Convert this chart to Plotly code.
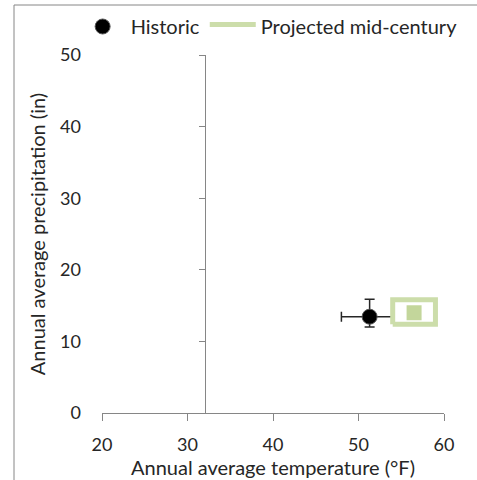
import plotly.graph_objects as go

# ---- data ----
hist_temp = [51.3]
hist_precip = [13.45]
hist_temp_err_minus = [3.3]
hist_temp_err_plus = [2.6]
hist_precip_err_minus = [1.45]
hist_precip_err_plus = [2.45]

proj_temp = [56.5]
proj_precip = [14.0]
proj_temp_range = [54.0, 59.0]
proj_precip_range = [12.4, 15.8]

x_ticks = [20, 30, 40, 50, 60]
y_ticks = [0, 10, 20, 30, 40, 50]
x_range = [20, 60]
y_range = [0, 50]
y_axis_cross = 32  # freezing point

FONT = "Lato"
TXT = "#262626"
AX = "#868686"
GREEN_FILL = "#C3D69B"
GREEN_LINE = "#CCDDAA"

W, H = 477, 480
ML, MR, MT, MB = 102, 33, 55, 67
pw = W - ML - MR
ph = H - MT - MB

fig = go.Figure()

bx = [proj_temp_range[0], proj_temp_range[1], proj_temp_range[1], proj_temp_range[0], proj_temp_range[0]]
by = [proj_precip_range[0], proj_precip_range[0], proj_precip_range[1], proj_precip_range[1], proj_precip_range[0]]

fig.add_trace(go.Scatter(
    x=hist_temp, y=hist_precip, mode="markers", name="Historic",
    marker=dict(symbol="circle", size=15, color="black",
                line=dict(color="#555555", width=1)),
    error_x=dict(type="data", array=hist_temp_err_plus, arrayminus=hist_temp_err_minus,
                 color="#262626", thickness=1.5, width=5),
    error_y=dict(type="data", array=hist_precip_err_plus, arrayminus=hist_precip_err_minus,
                 color="#262626", thickness=1.5, width=5),
))

fig.add_trace(go.Scatter(
    x=bx, y=by, mode="lines", name="Projected mid-century",
    line=dict(color=GREEN_LINE, width=5), fill="toself", fillcolor="white",
))
fig.add_trace(go.Scatter(
    x=proj_temp, y=proj_precip, mode="markers", showlegend=False,
    marker=dict(symbol="square", size=15, color=GREEN_FILL),
))

fig.add_trace(go.Scatter(x=[y_axis_cross], y=[0], yaxis="y2", mode="markers",
                         marker=dict(opacity=0), showlegend=False, hoverinfo="skip"))

cross_pos = (y_axis_cross - x_range[0]) / (x_range[1] - x_range[0])

fig.update_layout(
    width=W, height=H,
    margin=dict(l=ML, r=MR, t=MT, b=MB, autoexpand=False),
    paper_bgcolor="white", plot_bgcolor="white",
    font=dict(family=FONT, size=17, color=TXT),
    xaxis=dict(range=x_range, tickvals=x_ticks, showgrid=False, zeroline=False,
               showline=True, linecolor=AX, linewidth=1, ticks="outside",
               ticklen=7, tickcolor=AX, ticklabelstandoff=8,
               title=dict(text="Annual average temperature (°F)", standoff=6),
               tickfont=dict(size=18)),
    yaxis=dict(range=y_range, tickvals=y_ticks, showgrid=False, zeroline=False,
               showline=False, ticks="", ticklabelstandoff=20,
               title=dict(text="Annual average precipitation (in)", standoff=9),
               tickfont=dict(size=18)),
    yaxis2=dict(range=y_range, tickvals=y_ticks, overlaying="y", anchor="free",
                position=cross_pos, side="left", showgrid=False, zeroline=False,
                showline=True, linecolor=AX, linewidth=1, ticks="outside",
                ticklen=6, tickcolor=AX, showticklabels=False),
    legend=dict(orientation="h", x=-0.08, y=1 + (MT - 7) / ph, xanchor="left",
                yanchor="top", font=dict(size=20), bgcolor="rgba(0,0,0,0)",
                traceorder="normal", itemwidth=46),
    showlegend=True,
)

fx = (14 - ML) / pw
fy = 1 + (MT - 5) / ph
fig.add_shape(type="line", xref="paper", yref="paper", x0=fx, x1=fx, y0=fy, y1=-MB / ph,
              line=dict(color=AX, width=1))
fig.add_shape(type="line", xref="paper", yref="paper", x0=fx, x1=1 + MR / pw, y0=fy, y1=fy,
              line=dict(color=AX, width=1))

fig.write_html(
    "out.html", config={"displayModeBar": False},
    post_script=("var st=document.createElement('style');"
                 "st.textContent='html,body{margin:0;padding:0;overflow:hidden;scrollbar-width:none;}"
                 "::-webkit-scrollbar{display:none;width:0;height:0;}';"
                 "document.head.appendChild(st);"
                 "document.documentElement.style.overflow='hidden';"
                 "document.body.style.margin='0';document.body.style.overflow='hidden';"),
)
